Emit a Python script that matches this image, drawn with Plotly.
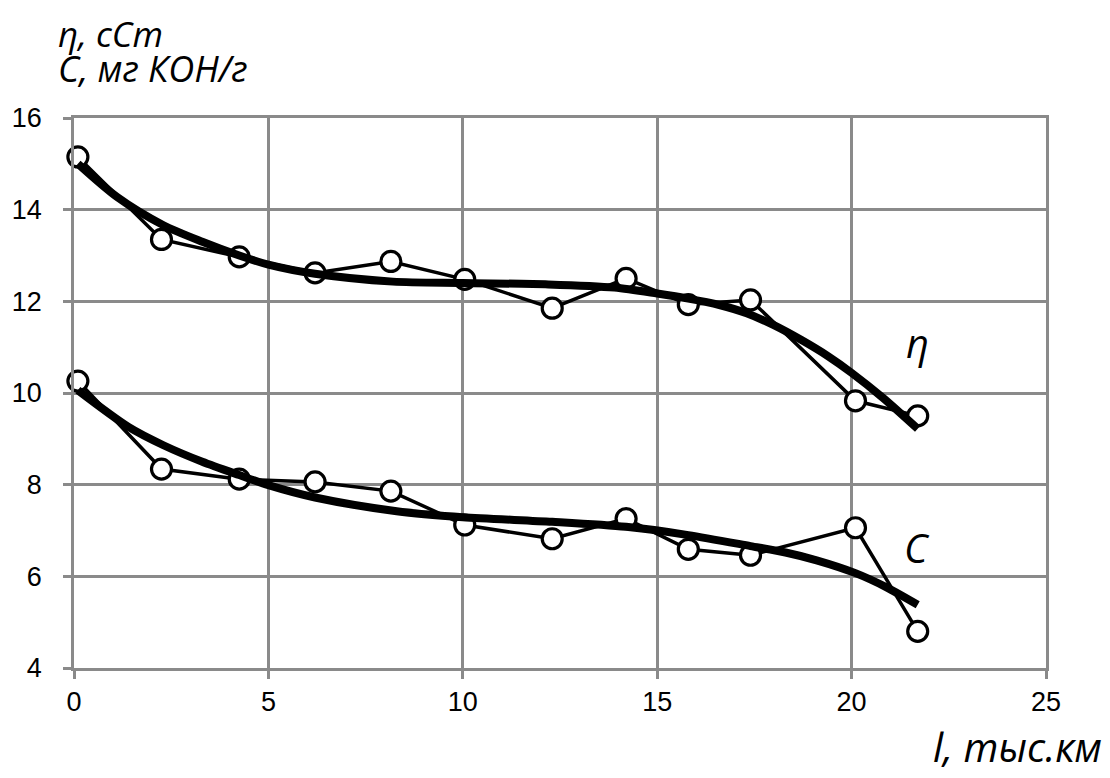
import plotly.graph_objects as go

# Mileage, thousand km
mileage = [0.1, 2.25, 4.25, 6.2, 8.15, 10.05, 12.3, 14.2, 15.8, 17.4, 20.1, 21.7]
# Kinematic viscosity, cSt
viscosity = [15.15, 13.35, 12.97, 12.62, 12.87, 12.48, 11.85, 12.5, 11.93, 12.03, 9.83, 9.5]
# Acid number, mg KOH/g
acid_number = [10.26, 8.34, 8.12, 8.06, 7.86, 7.12, 6.82, 7.26, 6.59, 6.46, 7.06, 4.8]

# Smoothed trend curves
visc_trend_x = [0.1, 1.1, 2.3, 3.3, 4.25, 5.0, 6.2, 8.2, 10.0, 12.2, 13.9, 15.0, 15.8, 16.6, 17.3, 18.0, 18.7, 19.4, 20.0, 20.8, 21.7]
visc_trend_y = [15.0, 14.28, 13.66, 13.3, 13.0, 12.8, 12.6, 12.43, 12.4, 12.37, 12.3, 12.17, 12.06, 11.92, 11.74, 11.48, 11.16, 10.8, 10.44, 9.9, 9.22]
acid_trend_x = [0.1, 1.4, 2.3, 3.3, 4.25, 5.0, 6.2, 8.3, 10.0, 12.3, 14.2, 15.8, 17.4, 18.3, 19.1, 20.1, 20.9, 21.7]
acid_trend_y = [10.06, 9.26, 8.86, 8.5, 8.21, 7.99, 7.72, 7.42, 7.29, 7.19, 7.08, 6.9, 6.66, 6.52, 6.35, 6.07, 5.76, 5.38]

x_ticks = [0, 5, 10, 15, 20, 25]
y_ticks = [4, 6, 8, 10, 12, 14, 16]

GRID = "#8a8a8a"
TICK_FONT = dict(family="Liberation Sans, Arial, sans-serif", size=27, color="black")
TITLE_FONT = dict(family="Open Sans, Liberation Sans, sans-serif", size=35, color="black", style="italic")

fig = go.Figure()

marker_style = dict(symbol="circle", size=20, color="white", line=dict(color="black", width=3.2))
for ys in (viscosity, acid_number):
    fig.add_trace(go.Scatter(
        x=mileage, y=ys, mode="lines+markers",
        line=dict(color="black", width=3.5), marker=marker_style,
        showlegend=False, cliponaxis=False,
    ))

for tx, ty in ((visc_trend_x, visc_trend_y), (acid_trend_x, acid_trend_y)):
    fig.add_trace(go.Scatter(
        x=tx, y=ty, mode="lines",
        line=dict(color="black", width=8, shape="spline", smoothing=0.8),
        showlegend=False, cliponaxis=False,
    ))

W, H = 1110, 778
L, R, T, B = 71, 64, 118, 110
pw, ph = W - L - R, H - T - B


def px(xp):
    return (xp - L) / pw


def py(yp):
    return (H - B - yp) / ph


annotations = [
    dict(text="η, сСт", x=px(53), y=py(33), xanchor="left", yanchor="middle", font=TITLE_FONT),
    dict(text="С, мг КОН/г", x=px(53), y=py(68), xanchor="left", yanchor="middle",
         font=dict(TITLE_FONT, size=36)),
    dict(text="l, тыс.км", x=px(1104), y=py(746), xanchor="right", yanchor="middle",
         font=dict(TITLE_FONT, size=40)),
    dict(text="η", x=px(917), y=py(342), xanchor="center", yanchor="middle",
         font=dict(TITLE_FONT, size=40)),
    dict(text="С", x=px(917), y=py(547), xanchor="center", yanchor="middle",
         font=dict(TITLE_FONT, size=40)),
]
for a in annotations:
    a.update(xref="paper", yref="paper", showarrow=False)

axis_common = dict(
    showgrid=True, gridcolor=GRID, gridwidth=2.5,
    showline=True, linecolor=GRID, linewidth=2.5, mirror=True,
    ticks="outside", ticklen=8, tickwidth=2.5, tickcolor=GRID,
    tickfont=TICK_FONT, zeroline=False,
)

fig.update_layout(
    width=W, height=H,
    margin=dict(l=L, r=R, t=T, b=B),
    paper_bgcolor="white", plot_bgcolor="white",
    xaxis=dict(axis_common, range=[0, 25], tickvals=x_ticks, ticklabelstandoff=0),
    yaxis=dict(axis_common, range=[4, 16], tickvals=y_ticks, ticklabelstandoff=16),
    annotations=annotations,
)

fig.write_html("out.html")
